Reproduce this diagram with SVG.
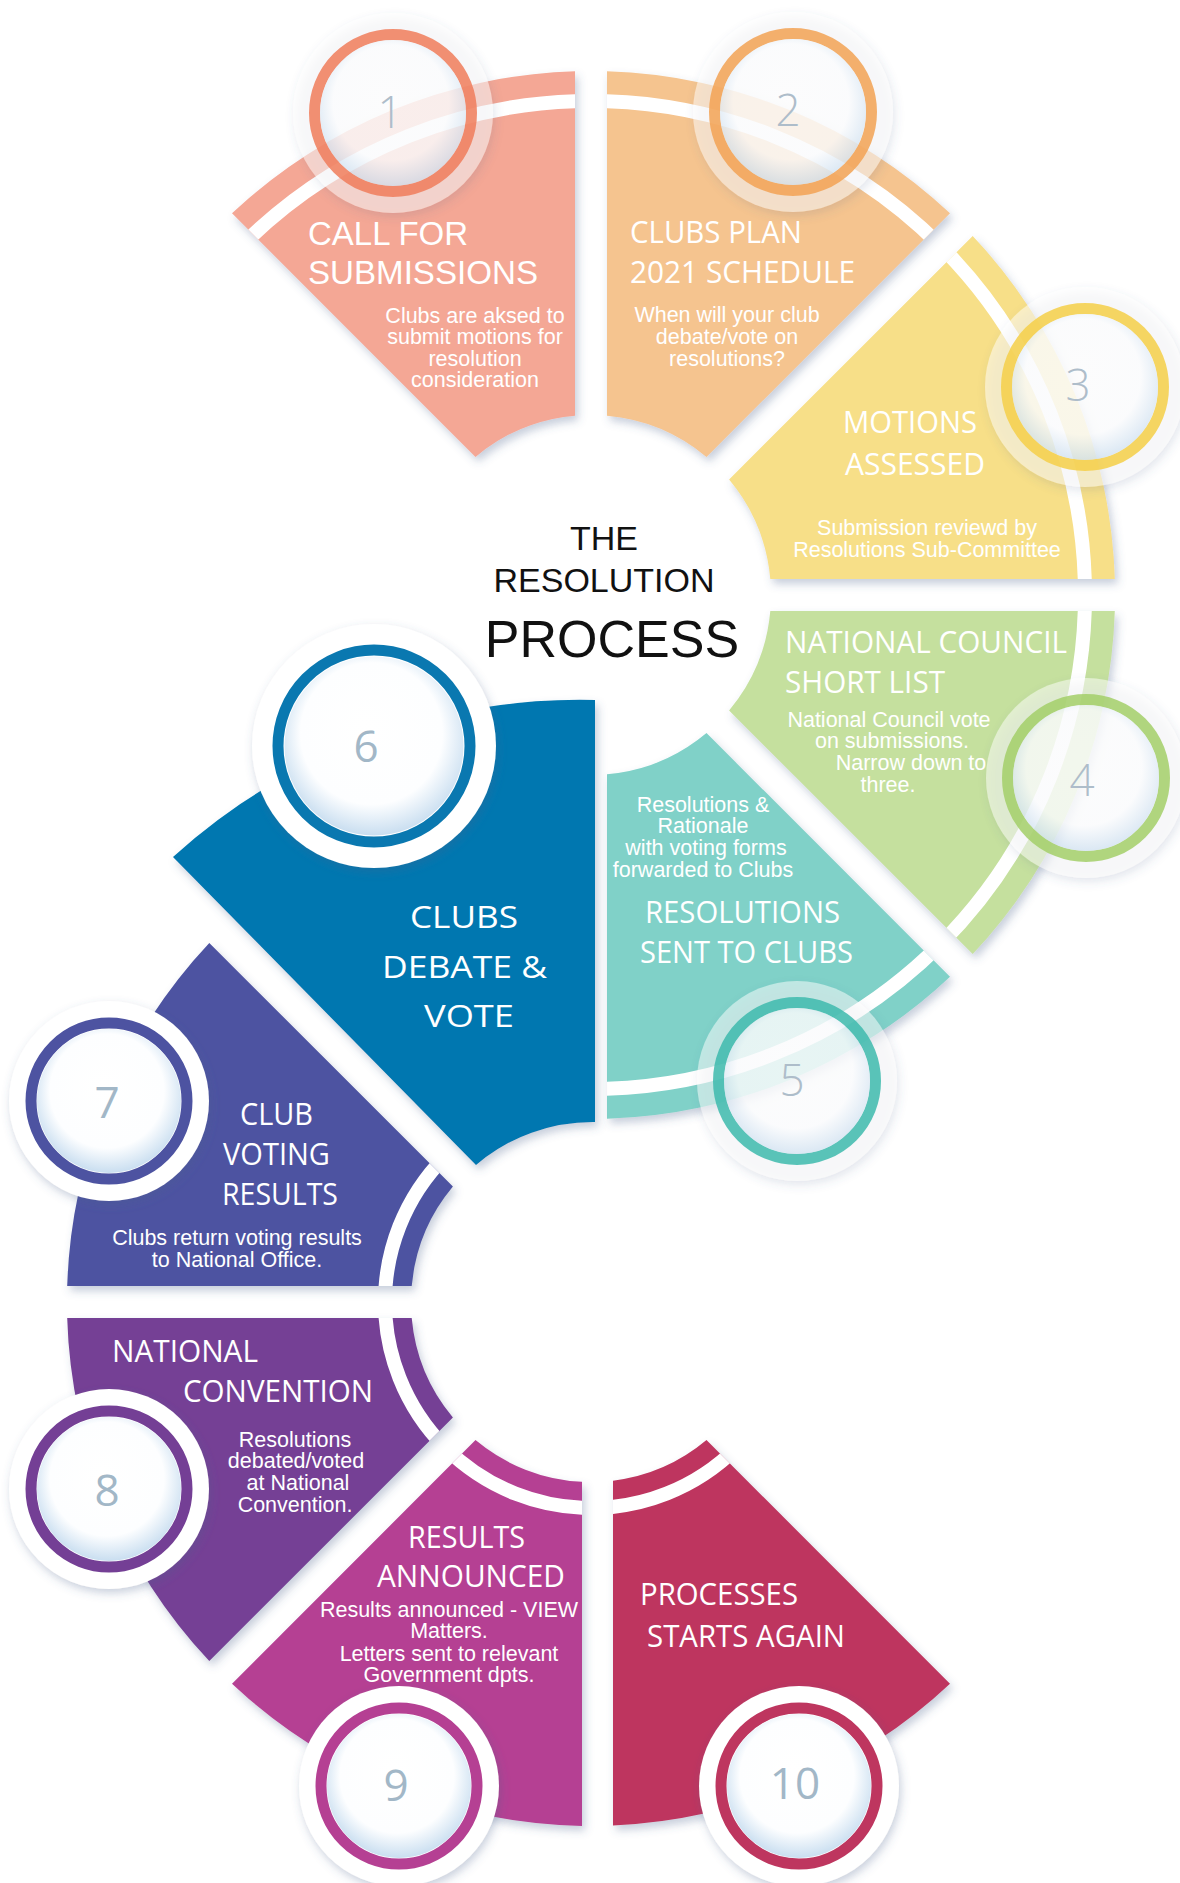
<svg xmlns="http://www.w3.org/2000/svg" xmlns:xlink="http://www.w3.org/1999/xlink" width="1180" height="1883" viewBox="0 0 1180 1883">
<style>
.hd{font-family:"Open Sans","Noto Sans",sans-serif;fill:#fff;font-size:31px}
.hda{font-family:"Liberation Sans",Arial,sans-serif;fill:#fff;font-size:33px}
.bd{font-family:"Liberation Sans",Arial,sans-serif;fill:#fff;font-size:21.5px;text-anchor:middle}
.num{font-family:"Open Sans","Noto Sans",sans-serif;fill:#a2b7c7;text-anchor:middle;font-size:44px}
.numl{font-weight:300;fill:#aebdca}
.stripe{fill:none;stroke:#fff;stroke-width:14}
.ttl{font-family:"Liberation Sans",Arial,sans-serif;fill:#111;text-anchor:middle}
.halo{fill:#fff;fill-opacity:0.5}
.ring{fill:none;stroke-width:11}
.s1{fill:#f4a795}.s2{fill:#f5c48f}.s3{fill:#f7df88}.s4{fill:#c5e09e}.s5{fill:#80d1c8}
.s6{fill:#0077b0}.s7{fill:#4d53a1}.s8{fill:#743f95}.s9{fill:#b54093}.s10{fill:#be365f}
</style>
<defs>
<filter id="sh" x="-15%" y="-15%" width="140%" height="140%"><feDropShadow dx="3" dy="5" stdDeviation="4" flood-color="#4a5f8a" flood-opacity="0.3"/></filter>
<filter id="bsh" x="-20%" y="-20%" width="150%" height="150%"><feDropShadow dx="2" dy="4" stdDeviation="5" flood-color="#4a5f8a" flood-opacity="0.3"/></filter>
<radialGradient id="glass" cx="0.5" cy="0.45" r="0.55" fx="0.45" fy="0.38">
<stop offset="0" stop-color="#fff"/><stop offset="0.72" stop-color="#fdfeff"/><stop offset="1" stop-color="#c9def0"/>
</radialGradient>
<path id="p1" d="M 475.5 456.9 L 232 213.3 A 524 524 0 0 1 575 71.2 L 575 415.7 A 180 180 0 0 0 475.5 456.9 Z"/>
<path id="p2" d="M 607 415.7 L 607 71.2 A 524 524 0 0 1 950 213.3 L 706.5 456.9 A 180 180 0 0 0 607 415.7 Z"/>
<path id="p3" d="M 729.1 479.5 L 972.7 236 A 524 524 0 0 1 1114.8 579 L 770.3 579 A 180 180 0 0 0 729.1 479.5 Z"/>
<path id="p4" d="M 770.3 611 L 1114.8 611 A 524 524 0 0 1 972.7 954 L 729.1 710.5 A 180 180 0 0 0 770.3 611 Z"/>
<path id="p5" d="M 706.5 733.1 L 950 976.7 A 524 524 0 0 1 607 1118.8 L 607 774.3 A 180 180 0 0 0 706.5 733.1 Z"/>
<path id="p6" d="M 476 1165 L 173 857 A 605 605 0 0 1 595 700 L 595 1122 A 180 180 0 0 0 476 1165 Z"/>
<path id="p7" d="M 411.7 1286 L 67.2 1286 A 524 524 0 0 1 209.3 943 L 452.9 1186.5 A 180 180 0 0 0 411.7 1286 Z"/>
<path id="p8" d="M 452.9 1417.5 L 209.3 1661 A 524 524 0 0 1 67.2 1318 L 411.7 1318 A 180 180 0 0 0 452.9 1417.5 Z"/>
<path id="p9" d="M 582 1481.8 L 582 1825.9 A 524 524 0 0 1 232 1683.7 L 475.5 1440.1 A 180 180 0 0 0 582 1481.8 Z"/>
<path id="p10" d="M 706.5 1440.1 L 950 1683.7 A 524 524 0 0 1 613 1825.5 L 613 1480.7 A 180 180 0 0 0 706.5 1440.1 Z"/>
<clipPath id="c1"><use href="#p1"/></clipPath>
<clipPath id="c2"><use href="#p2"/></clipPath>
<clipPath id="c3"><use href="#p3"/></clipPath>
<clipPath id="c4"><use href="#p4"/></clipPath>
<clipPath id="c5"><use href="#p5"/></clipPath>
<clipPath id="c7"><use href="#p7"/></clipPath>
<clipPath id="c8"><use href="#p8"/></clipPath>
<clipPath id="c9"><use href="#p9"/></clipPath>
<clipPath id="c10"><use href="#p10"/></clipPath>
</defs>
<rect width="1180" height="1883" fill="#fff"/>

<g id="title">
<text class="ttl" x="604" y="550" font-size="34">THE</text>
<text class="ttl" x="604" y="592" font-size="34">RESOLUTION</text>
<text class="ttl" x="612" y="657" font-size="52">PROCESS</text>
</g>

<g id="connectors"></g>

<g id="step-1">
<use href="#p1" class="s1" filter="url(#sh)"/>
<circle class="stripe" cx="591" cy="595" r="494" clip-path="url(#c1)"/>
<circle class="halo" cx="393" cy="113" r="100" filter="url(#bsh)"/>
<circle class="ring" cx="393" cy="113" r="78.5" stroke="#f07c5a" stroke-opacity="0.85"/>
<circle cx="393" cy="113" r="73" fill="url(#glass)" opacity="0.62"/>
<text class="num numl" x="390" y="128">1</text>
<text class="hda" x="308" y="245" textLength="160" lengthAdjust="spacingAndGlyphs">CALL FOR</text>
<text class="hda" x="308" y="284" textLength="230" lengthAdjust="spacingAndGlyphs">SUBMISSIONS</text>
<text class="bd" x="475" y="323">Clubs are aksed to</text>
<text class="bd" x="475" y="344">submit motions for</text>
<text class="bd" x="475" y="366">resolution</text>
<text class="bd" x="475" y="387">consideration</text>
</g>

<g id="step-2">
<use href="#p2" class="s2" filter="url(#sh)"/>
<circle class="stripe" cx="591" cy="595" r="494" clip-path="url(#c2)"/>
<circle class="halo" cx="793" cy="112" r="100" filter="url(#bsh)"/>
<circle class="ring" cx="793" cy="112" r="78.5" stroke="#f2a254" stroke-opacity="0.85"/>
<circle cx="793" cy="112" r="73" fill="url(#glass)" opacity="0.62"/>
<text class="num numl" x="788" y="126">2</text>
<text class="hd" x="630" y="243" textLength="172" lengthAdjust="spacingAndGlyphs">CLUBS PLAN</text>
<text class="hd" x="630" y="283" textLength="225" lengthAdjust="spacingAndGlyphs">2021 SCHEDULE</text>
<text class="bd" x="727" y="322">When will your club</text>
<text class="bd" x="727" y="344">debate/vote on</text>
<text class="bd" x="727" y="366">resolutions?</text>
</g>

<g id="step-3">
<use href="#p3" class="s3" filter="url(#sh)"/>
<circle class="stripe" cx="591" cy="595" r="494" clip-path="url(#c3)"/>
<circle class="halo" cx="1085" cy="387" r="100" filter="url(#bsh)"/>
<circle class="ring" cx="1085" cy="387" r="78.5" stroke="#f5cf48" stroke-opacity="0.85"/>
<circle cx="1085" cy="387" r="73" fill="url(#glass)" opacity="0.62"/>
<text class="num numl" x="1078" y="401">3</text>
<text class="hd" x="843" y="433" textLength="134" lengthAdjust="spacingAndGlyphs">MOTIONS</text>
<text class="hd" x="845" y="475" textLength="140" lengthAdjust="spacingAndGlyphs">ASSESSED</text>
<text class="bd" x="927" y="535">Submission reviewd by</text>
<text class="bd" x="927" y="557">Resolutions Sub-Committee</text>
</g>

<g id="step-4">
<use href="#p4" class="s4" filter="url(#sh)"/>
<circle class="stripe" cx="591" cy="595" r="494" clip-path="url(#c4)"/>
<circle class="halo" cx="1086" cy="778" r="100" filter="url(#bsh)"/>
<circle class="ring" cx="1086" cy="778" r="78.5" stroke="#a3cf68" stroke-opacity="0.85"/>
<circle cx="1086" cy="778" r="73" fill="url(#glass)" opacity="0.62"/>
<text class="num numl" x="1082" y="796">4</text>
<text class="hd" x="785" y="653" textLength="282" lengthAdjust="spacingAndGlyphs">NATIONAL COUNCIL</text>
<text class="hd" x="785" y="693" textLength="160" lengthAdjust="spacingAndGlyphs">SHORT LIST</text>
<text class="bd" x="889" y="727">National Council vote</text>
<text class="bd" x="892" y="748">on submissions.</text>
<text class="bd" x="911" y="770">Narrow down to</text>
<text class="bd" x="888" y="792">three.</text>
</g>

<g id="step-5">
<use href="#p5" class="s5" filter="url(#sh)"/>
<circle class="stripe" cx="591" cy="595" r="494" clip-path="url(#c5)"/>
<circle class="halo" cx="797" cy="1081" r="100" filter="url(#bsh)"/>
<circle class="ring" cx="797" cy="1081" r="78.5" stroke="#3dbaad" stroke-opacity="0.85"/>
<circle cx="797" cy="1081" r="73" fill="url(#glass)" opacity="0.62"/>
<text class="num numl" x="792" y="1096">5</text>
<text class="bd" x="703" y="812">Resolutions &amp;</text>
<text class="bd" x="703" y="833">Rationale</text>
<text class="bd" x="706" y="855">with voting forms</text>
<text class="bd" x="703" y="877">forwarded to Clubs</text>
<text class="hd" x="645" y="923" textLength="195" lengthAdjust="spacingAndGlyphs">RESOLUTIONS</text>
<text class="hd" x="640" y="963" textLength="213" lengthAdjust="spacingAndGlyphs">SENT TO CLUBS</text>
</g>

<g id="step-6">
<use href="#p6" class="s6" filter="url(#sh)"/>
<circle cx="374" cy="746" r="122" fill="#fff" filter="url(#bsh)"/>
<circle class="ring" cx="374" cy="746" r="96" stroke="#0a78b0" stroke-width="13"/>
<circle cx="374" cy="746" r="89.5" fill="url(#glass)"/>
<text class="num" x="366" y="762" font-size="62">6</text>
<text class="hd" x="410" y="928" font-size="38" textLength="108" lengthAdjust="spacingAndGlyphs">CLUBS</text>
<text class="hd" x="382" y="978" font-size="38" textLength="165" lengthAdjust="spacingAndGlyphs">DEBATE &amp;</text>
<text class="hd" x="424" y="1027" font-size="38" textLength="90" lengthAdjust="spacingAndGlyphs">VOTE</text>
</g>

<g id="step-7">
<use href="#p7" class="s7" filter="url(#sh)"/>
<circle class="stripe" cx="591" cy="1302" r="206" clip-path="url(#c7)"/>
<circle cx="109" cy="1101" r="100" fill="#fff" filter="url(#bsh)"/>
<circle class="ring" cx="109" cy="1101" r="78" stroke="#4d53a1" stroke-width="12"/>
<circle cx="109" cy="1101" r="72" fill="url(#glass)"/>
<text class="num" x="107" y="1118">7</text>
<text class="hd" x="240" y="1125" textLength="73" lengthAdjust="spacingAndGlyphs">CLUB</text>
<text class="hd" x="223" y="1165" textLength="107" lengthAdjust="spacingAndGlyphs">VOTING</text>
<text class="hd" x="222" y="1205" textLength="116" lengthAdjust="spacingAndGlyphs">RESULTS</text>
<text class="bd" x="237" y="1245">Clubs return voting results</text>
<text class="bd" x="237" y="1267">to National Office.</text>
</g>

<g id="step-8">
<use href="#p8" class="s8" filter="url(#sh)"/>
<circle class="stripe" cx="591" cy="1302" r="206" clip-path="url(#c8)"/>
<circle cx="109" cy="1489" r="100" fill="#fff" filter="url(#bsh)"/>
<circle class="ring" cx="109" cy="1489" r="78" stroke="#743f95" stroke-width="12"/>
<circle cx="109" cy="1489" r="72" fill="url(#glass)"/>
<text class="num" x="107" y="1506">8</text>
<text class="hd" x="112" y="1362" textLength="146" lengthAdjust="spacingAndGlyphs">NATIONAL</text>
<text class="hd" x="183" y="1402" textLength="190" lengthAdjust="spacingAndGlyphs">CONVENTION</text>
<text class="bd" x="295" y="1447">Resolutions</text>
<text class="bd" x="296" y="1468">debated/voted</text>
<text class="bd" x="298" y="1490">at National</text>
<text class="bd" x="295" y="1512">Convention.</text>
</g>

<g id="step-9">
<use href="#p9" class="s9" filter="url(#sh)"/>
<circle class="stripe" cx="591" cy="1302" r="206" clip-path="url(#c9)"/>
<circle cx="399" cy="1786" r="100" fill="#fff" filter="url(#bsh)"/>
<circle class="ring" cx="399" cy="1786" r="78" stroke="#b54093" stroke-width="12"/>
<circle cx="399" cy="1786" r="72" fill="url(#glass)"/>
<text class="num" x="396" y="1801">9</text>
<text class="hd" x="408" y="1548" textLength="117" lengthAdjust="spacingAndGlyphs">RESULTS</text>
<text class="hd" x="377" y="1587" textLength="188" lengthAdjust="spacingAndGlyphs">ANNOUNCED</text>
<text class="bd" x="449" y="1617">Results announced - VIEW</text>
<text class="bd" x="449" y="1638">Matters.</text>
<text class="bd" x="449" y="1661">Letters sent to relevant</text>
<text class="bd" x="449" y="1682">Government dpts.</text>
</g>

<g id="step-10">
<use href="#p10" class="s10" filter="url(#sh)"/>
<circle class="stripe" cx="591" cy="1302" r="206" clip-path="url(#c10)"/>
<circle cx="799" cy="1786" r="100" fill="#fff" filter="url(#bsh)"/>
<circle class="ring" cx="799" cy="1786" r="78" stroke="#be365f" stroke-width="12"/>
<circle cx="799" cy="1786" r="72" fill="url(#glass)"/>
<text class="num" x="795" y="1799">10</text>
<text class="hd" x="640" y="1605" textLength="158" lengthAdjust="spacingAndGlyphs">PROCESSES</text>
<text class="hd" x="647" y="1647" textLength="198" lengthAdjust="spacingAndGlyphs">STARTS AGAIN</text>
</g>
</svg>
